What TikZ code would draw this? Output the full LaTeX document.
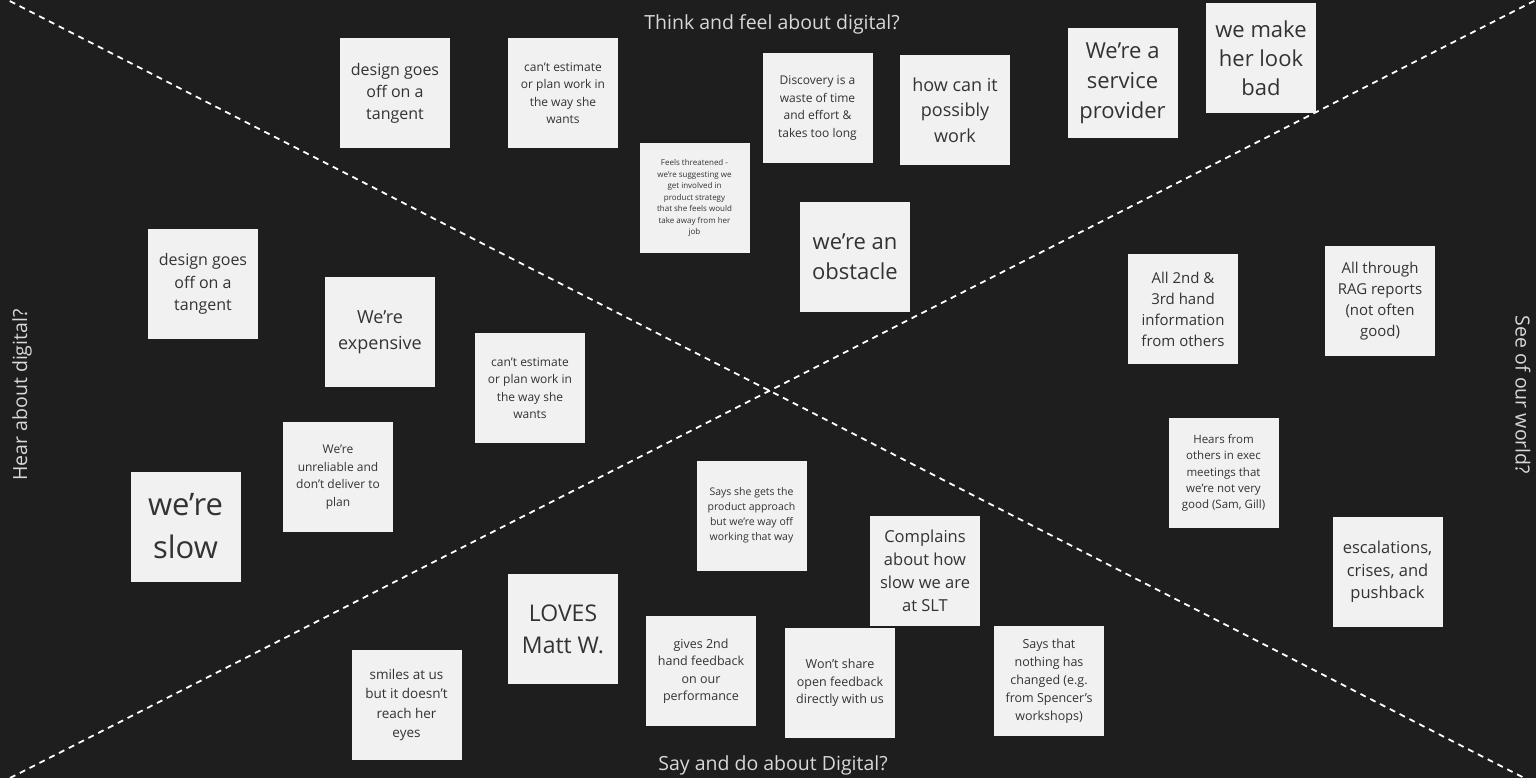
\documentclass[tikz,border=0pt]{standalone}
\usepackage{fontspec}
\setmainfont{Open Sans}
\definecolor{bgcol}{HTML}{1E1E1E}
\definecolor{notefill}{HTML}{F1F1F1}
\definecolor{notetext}{HTML}{333333}
\definecolor{labeltext}{HTML}{D8D8D8}
\newcommand\fsz[2]{\fontsize{#1}{#2}\selectfont}
\tikzset{
  divider/.style={draw=white, line width=1.8pt, dash pattern=on 6pt off 5pt},
  note/.style={fill=notefill, minimum width=110pt, minimum height=110pt, inner sep=2pt, align=center, text=notetext},
  quadlabel/.style={text=labeltext, font=\fsz{19.5}{22}}
}
\begin{document}
\begin{tikzpicture}[x=1pt,y=-1pt]
\fill[bgcol] (0,0) rectangle (1536,778);
\useasboundingbox (0,0) rectangle (1536,778);
\coordinate (tl) at (0,-4);
\coordinate (tr) at (1536,0);
\coordinate (bl) at (10,778);
\coordinate (br) at (1536,784);
\draw[divider] (tl) -- (br);
\draw[divider] (bl) -- (tr);

% quadrant labels
\node[quadlabel] (think) at (772,24) {Think and feel about digital?};
\node[quadlabel] (say) at (773,765) {Say and do about Digital?};
\node[quadlabel, rotate=90] (hear) at (22,395) {Hear about digital?};
\node[quadlabel, rotate=-90] (see) at (1523,395) {See of our world?};

% top quadrant
\node[note, font=\fsz{16}{22}] (n1) at (395,93) {design goes\\off on a\\tangent};
\node[note, font=\fsz{12}{17.5}] (n2) at (563,93) {can't estimate\\or plan work in\\the way she\\wants};
\node[note, font=\fsz{8}{11.5}] (n3) at (694.5,198) {Feels threatened -\\we're suggesting we\\get involved in\\product strategy\\that she feels would\\take away from her\\job};
\node[note, font=\fsz{12}{17.5}] (n4) at (817.5,108) {Discovery is a\\waste of time\\and effort \&\\takes too long};
\node[note, font=\fsz{18}{25.5}] (n5) at (955,110) {how can it\\possibly\\work};
\node[note, font=\fsz{22}{30}] (n6) at (1122.5,83) {We're a\\service\\provider};
\node[note, font=\fsz{22}{29}] (n7) at (1261,58) {we make\\her look\\bad};
\node[note, font=\fsz{22}{30}] (n8) at (855,257) {we're an\\obstacle};

% left quadrant
\node[note, font=\fsz{16}{22.5}] (n9) at (203,284) {design goes\\off on a\\tangent};
\node[note, font=\fsz{18}{26}] (n10) at (380,332) {We're\\expensive};
\node[note, font=\fsz{12}{17.5}] (n11) at (530,388) {can't estimate\\or plan work in\\the way she\\wants};
\node[note, font=\fsz{12}{17.5}] (n12) at (338,477) {We're\\unreliable and\\don't deliver to\\plan};
\node[note, font=\fsz{31}{43}] (n13) at (185.5,526.5) {we're\\slow};

% right quadrant
\node[note, font=\fsz{15}{21}] (n14) at (1183,309) {All 2nd \&\\3rd hand\\information\\from others};
\node[note, font=\fsz{15}{21}] (n15) at (1380,301) {All through\\RAG reports\\(not often\\good)};
\node[note, font=\fsz{11.5}{16.3}] (n16) at (1223.5,473) {Hears from\\others in exec\\meetings that\\we're not very\\good (Sam, Gill)};
\node[note, font=\fsz{16.5}{22.5}] (n17) at (1387.5,572) {escalations,\\crises, and\\pushback};

% bottom quadrant
\node[note, font=\fsz{10.5}{15}] (n18) at (751.5,515.5) {Says she gets the\\product approach\\but we're way off\\working that way};
\node[note, font=\fsz{16.5}{23}] (n19) at (925,571) {Complains\\about how\\slow we are\\at SLT};
\node[note, font=\fsz{23}{32}] (n20) at (563,629) {LOVES\\Matt W.};
\node[note, font=\fsz{12.5}{17.5}] (n21) at (701,671) {gives 2nd\\hand feedback\\on our\\performance};
\node[note, font=\fsz{12.5}{17.5}] (n22) at (840,683) {Won't share\\open feedback\\directly with us};
\node[note, font=\fsz{12.5}{18}] (n23) at (1049,681) {Says that\\nothing has\\changed (e.g.\\from Spencer's\\workshops)};
\node[note, font=\fsz{13.5}{19.5}] (n24) at (406.5,705) {smiles at us\\but it doesn't\\reach her\\eyes};
\end{tikzpicture}
\end{document}
